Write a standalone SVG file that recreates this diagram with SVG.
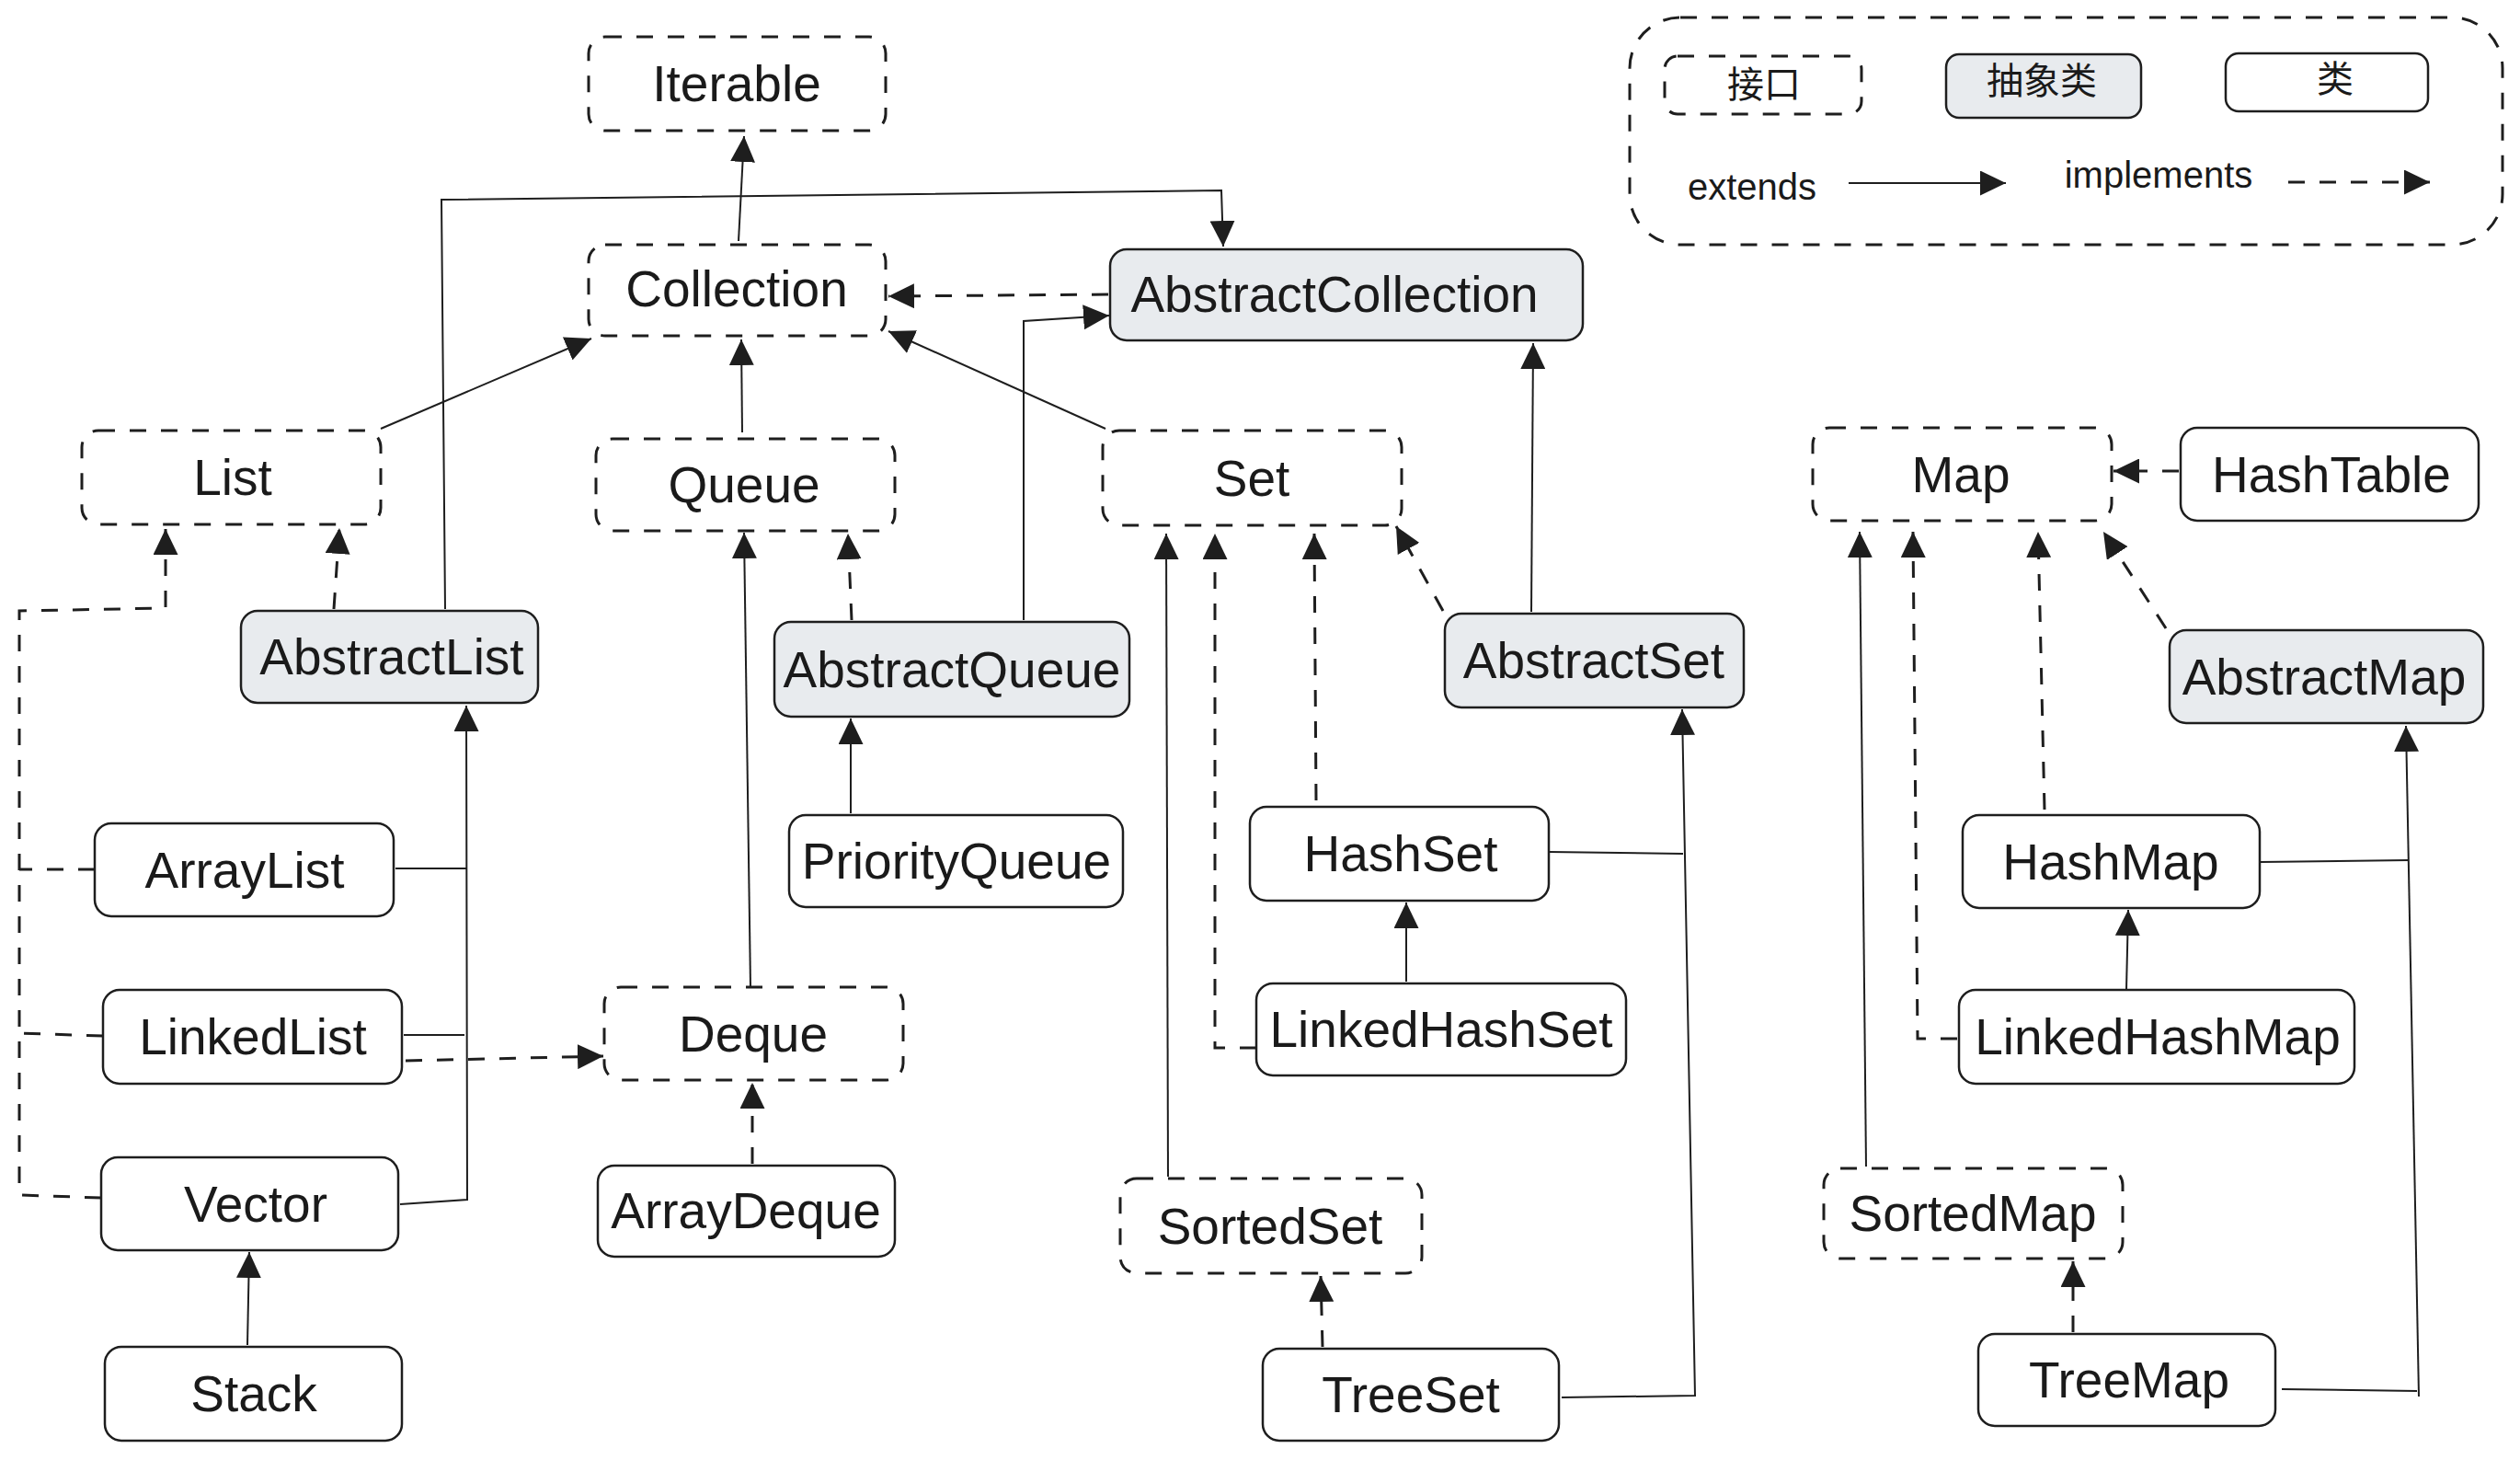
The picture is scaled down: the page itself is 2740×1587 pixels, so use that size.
<svg xmlns="http://www.w3.org/2000/svg" width="2740" height="1587" viewBox="0 0 2740 1587">
  <style>
    .box { fill: #ffffff; stroke: #1e1e1e; stroke-width: 2.5; }
    .iface { fill: #ffffff; stroke: #1e1e1e; stroke-width: 3; stroke-dasharray: 18 16; }
    .abstract { fill: #e8ebee; stroke: #1e1e1e; stroke-width: 2.5; }
    .label { font-family: "Liberation Sans", Arial, sans-serif; font-size: 55px; fill: #1a1a1a; text-anchor: middle; }
    .legend-text { font-family: "Liberation Sans", "Noto Sans CJK SC", sans-serif; font-size: 40px; fill: #1a1a1a; text-anchor: middle; }
    .ext { fill: none; stroke: #1e1e1e; stroke-width: 2; marker-end: url(#arrow); }
    .impl { fill: none; stroke: #1e1e1e; stroke-width: 3; stroke-dasharray: 18 16; marker-end: url(#arrow); }
    .ext-plain { fill: none; stroke: #1e1e1e; stroke-width: 2; }
    .impl-plain { fill: none; stroke: #1e1e1e; stroke-width: 3; stroke-dasharray: 18 16; }
  </style>
  <defs>
    <marker id="arrow" viewBox="0 0 28 27" refX="28" refY="13.5" markerWidth="28" markerHeight="27" markerUnits="userSpaceOnUse" orient="auto">
      <path d="M0,0 L28,13.5 L0,27 Z" fill="#1e1e1e"/>
    </marker>
  </defs>

  <rect width="2740" height="1587" fill="#ffffff"/>

  <!-- legend -->
  <g id="legend">
    <rect x="1772" y="19" width="949" height="247" rx="55" class="iface"/>
    <rect x="1810" y="61" width="214" height="63" rx="14" class="iface"/>
    <text x="1918" y="106" class="legend-text">接口</text>
    <rect x="2116" y="59" width="212" height="69" rx="14" class="abstract"/>
    <text x="2220" y="102" class="legend-text">抽象类</text>
    <rect x="2420" y="58" width="220" height="63" rx="14" class="box"/>
    <text x="2539" y="100" class="legend-text">类</text>
    <text x="1905" y="217" class="legend-text">extends</text>
    <path d="M2010,199 L2181,199" class="ext"/>
    <text x="2347" y="204" class="legend-text">implements</text>
    <path d="M2488,198 L2642,198" class="impl"/>
  </g>

  <!-- connectors -->
  <g id="connectors">
    <path d="M803,262 L809,148" class="ext"/>
    <path d="M484,662 L480,217 L1328,207 L1330,268" class="ext"/>
    <path d="M1205,320 L966,322" class="impl"/>
    <path d="M1113,674 L1113,349 L1206,343" class="ext"/>
    <path d="M414,466 L643,368" class="ext"/>
    <path d="M807,470 L806,369" class="ext"/>
    <path d="M1202,466 L966,360" class="ext"/>
    <path d="M1665,665 L1667,373" class="ext"/>
    <path d="M363,662 L369,574" class="impl"/>
    <path d="M110,1302 L21,1299 L21,664 L180,661 L180,575" class="impl"/>
    <path d="M103,945 L21,945" class="impl-plain"/>
    <path d="M112,1126 L21,1123" class="impl-plain"/>
    <path d="M435,1309 L508,1304 L507,767" class="ext"/>
    <path d="M430,944 L507,944" class="ext-plain"/>
    <path d="M439,1125 L505,1125" class="ext-plain"/>
    <path d="M441,1153 L656,1148" class="impl"/>
    <path d="M816,1073 L809,579" class="ext"/>
    <path d="M926,674 L922,580" class="impl"/>
    <path d="M925,884 L925,781" class="ext"/>
    <path d="M818,1265 L818,1177" class="impl"/>
    <path d="M1270,1279 L1268,580" class="ext"/>
    <path d="M1366,1139 L1321,1139 L1321,580" class="impl"/>
    <path d="M1431,870 L1429,580" class="impl"/>
    <path d="M1569,664 L1518,572" class="impl"/>
    <path d="M1698,1519 L1843,1517 L1829,771" class="ext"/>
    <path d="M1684,926 L1830,928" class="ext-plain"/>
    <path d="M1529,1067 L1529,981" class="ext"/>
    <path d="M1438,1464 L1436,1387" class="impl"/>
    <path d="M2369,512 L2298,512" class="impl"/>
    <path d="M2355,683 L2287,578" class="impl"/>
    <path d="M2223,880 L2216,578" class="impl"/>
    <path d="M2128,1129 L2085,1129 L2080,578" class="impl"/>
    <path d="M2029,1268 L2022,578" class="ext"/>
    <path d="M2481,1510 L2628,1512" class="ext-plain"/>
    <path d="M2630,1518 L2616,789" class="ext"/>
    <path d="M2457,937 L2619,935" class="ext-plain"/>
    <path d="M2312,1076 L2314,989" class="ext"/>
    <path d="M2254,1448 L2254,1371" class="impl"/>
    <path d="M269,1462 L271,1361" class="ext"/>
  </g>

  <!-- interfaces -->
  <g id="Iterable"><rect x="640" y="40" width="323" height="102" rx="18" class="iface"/><text x="801" y="110" class="label">Iterable</text></g>
  <g id="Collection"><rect x="640" y="266" width="323" height="99" rx="18" class="iface"/><text x="801" y="333" class="label">Collection</text></g>
  <g id="List"><rect x="89" y="468" width="325" height="102" rx="18" class="iface"/><text x="253" y="538" class="label">List</text></g>
  <g id="Queue"><rect x="648" y="477" width="325" height="100" rx="18" class="iface"/><text x="809" y="546" class="label">Queue</text></g>
  <g id="Set"><rect x="1199" y="468" width="325" height="103" rx="18" class="iface"/><text x="1361" y="539" class="label">Set</text></g>
  <g id="Map"><rect x="1971" y="465" width="325" height="101" rx="18" class="iface"/><text x="2132" y="535" class="label">Map</text></g>
  <g id="Deque"><rect x="657" y="1073" width="325" height="101" rx="18" class="iface"/><text x="819" y="1143" class="label">Deque</text></g>
  <g id="SortedSet"><rect x="1218" y="1281" width="328" height="103" rx="18" class="iface"/><text x="1381" y="1352" class="label">SortedSet</text></g>
  <g id="SortedMap"><rect x="1983" y="1270" width="325" height="98" rx="18" class="iface"/><text x="2145" y="1338" class="label">SortedMap</text></g>

  <!-- abstract classes -->
  <g id="AbstractCollection"><rect x="1207" y="271" width="514" height="99" rx="18" class="abstract"/><text x="1451" y="339" class="label">AbstractCollection</text></g>
  <g id="AbstractList"><rect x="262" y="664" width="323" height="100" rx="18" class="abstract"/><text x="426" y="733" class="label">AbstractList</text></g>
  <g id="AbstractQueue"><rect x="842" y="676" width="386" height="103" rx="18" class="abstract"/><text x="1035" y="747" class="label">AbstractQueue</text></g>
  <g id="AbstractSet"><rect x="1571" y="667" width="325" height="102" rx="18" class="abstract"/><text x="1733" y="737" class="label">AbstractSet</text></g>
  <g id="AbstractMap"><rect x="2359" y="685" width="341" height="101" rx="18" class="abstract"/><text x="2527" y="755" class="label">AbstractMap</text></g>

  <!-- concrete classes -->
  <g id="HashTable"><rect x="2371" y="465" width="324" height="101" rx="18" class="box"/><text x="2535" y="535" class="label">HashTable</text></g>
  <g id="PriorityQueue"><rect x="858" y="886" width="363" height="100" rx="18" class="box"/><text x="1040" y="955" class="label">PriorityQueue</text></g>
  <g id="HashSet"><rect x="1359" y="877" width="325" height="102" rx="18" class="box"/><text x="1523" y="947" class="label">HashSet</text></g>
  <g id="HashMap"><rect x="2134" y="886" width="323" height="101" rx="18" class="box"/><text x="2295" y="956" class="label">HashMap</text></g>
  <g id="ArrayList"><rect x="103" y="895" width="325" height="101" rx="18" class="box"/><text x="266" y="965" class="label">ArrayList</text></g>
  <g id="LinkedList"><rect x="112" y="1076" width="325" height="102" rx="18" class="box"/><text x="275" y="1146" class="label">LinkedList</text></g>
  <g id="LinkedHashSet"><rect x="1366" y="1069" width="402" height="100" rx="18" class="box"/><text x="1567" y="1138" class="label">LinkedHashSet</text></g>
  <g id="LinkedHashMap"><rect x="2130" y="1076" width="430" height="102" rx="18" class="box"/><text x="2346" y="1146" class="label">LinkedHashMap</text></g>
  <g id="Vector"><rect x="110" y="1258" width="323" height="101" rx="18" class="box"/><text x="278" y="1328" class="label">Vector</text></g>
  <g id="ArrayDeque"><rect x="650" y="1267" width="323" height="99" rx="18" class="box"/><text x="811" y="1335" class="label">ArrayDeque</text></g>
  <g id="Stack"><rect x="114" y="1464" width="323" height="102" rx="18" class="box"/><text x="276" y="1534" class="label">Stack</text></g>
  <g id="TreeSet"><rect x="1373" y="1466" width="322" height="100" rx="18" class="box"/><text x="1534" y="1535" class="label">TreeSet</text></g>
  <g id="TreeMap"><rect x="2151" y="1450" width="323" height="100" rx="18" class="box"/><text x="2315" y="1519" class="label">TreeMap</text></g>
</svg>
